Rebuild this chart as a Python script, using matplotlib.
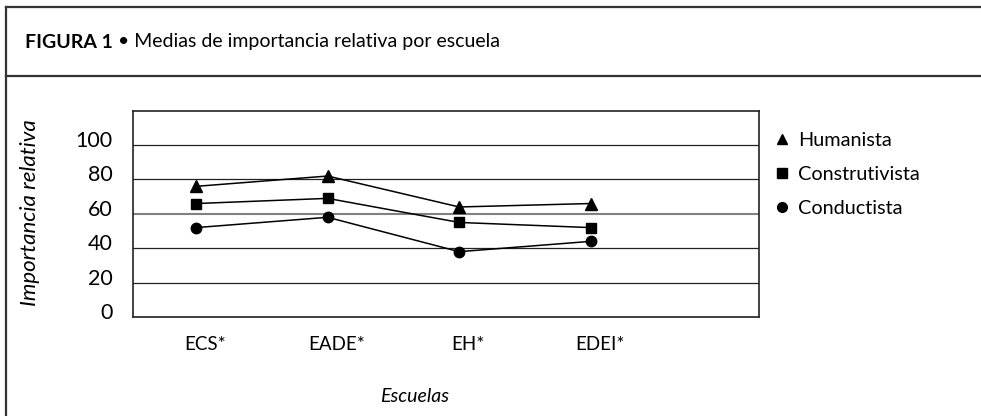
import matplotlib
matplotlib.use("Agg")
import matplotlib.pyplot as plt
import numpy as np
from matplotlib.lines import Line2D
from matplotlib.transforms import ScaledTranslation

plt.rcParams['font.family'] = ['Lato', 'DejaVu Sans']

schools = ["ECS*", "EADE*", "EH*", "EDEI*"]
humanista = [76, 82, 64, 66]
construtivista = [66, 69, 55, 52]
conductista = [52, 58, 38, 44]
yticks = [0, 20, 40, 60, 80, 100]

W, H = 981, 416
fig = plt.figure(figsize=(W / 100, H / 100), dpi=100)

# frame lines
def fl(x0, y0, x1, y1, lw=1.6, c='#333333'):
    fig.add_artist(Line2D([x0 / W, x1 / W], [1 - y0 / H, 1 - y1 / H], lw=lw, color=c,
                          transform=fig.transFigure))
fl(6, 7, W, 7)
fl(6, 7, 6, H)
fl(6, 76, W, 76)

# title
t1 = fig.text(25 / W, 1 - 42 / H, "FIGURA 1", fontsize=14, fontweight='bold', va='center', ha='left')
fig.canvas.draw()
bb = t1.get_window_extent()
fig.text(bb.x1 / W + 5 / W, 1 - 42 / H, "\u2022 Medias de importancia relativa por escuela",
         fontsize=14, va='center', ha='left')

ax = fig.add_axes([133 / W, 1 - 317 / H, (759 - 133) / W, (317 - 110.7) / H])
x = np.arange(len(schools))
ax.plot(x, humanista, color='black', lw=1.1, marker='^', ms=9, label='Humanista')
ax.plot(x, construtivista, color='black', lw=1.1, marker='s', ms=7, label='Construtivista')
ax.plot(x, conductista, color='black', lw=1.1, marker='o', ms=7.5, label='Conductista')

ax.set_xlim(-0.48, 4.28)
ax.set_ylim(0, 120)
ax.set_yticks(yticks)
ax.set_yticklabels([str(v) for v in yticks], fontsize=15.5)
ax.set_xticks(x + 0.07)
ax.set_xticklabels(schools, fontsize=13.5)
ax.tick_params(axis='both', length=0)
ax.tick_params(axis='y', pad=14.5)
ax.tick_params(axis='x', pad=14)
for lab in ax.get_yticklabels():
    lab.set_transform(lab.get_transform() + ScaledTranslation(0, 6 / 100, fig.dpi_scale_trans))
ax.yaxis.grid(True, color='#222222', lw=0.9)
for v, gl in zip(yticks, ax.get_ygridlines()):
    if v == 60:
        gl.set_color('#808080')
        gl.set_linewidth(1.5)
ax.set_axisbelow(True)
for s in ax.spines.values():
    s.set_color('#222222')
    s.set_linewidth(1.2)

fig.text(30 / W, 1 - 213 / H, "Importancia relativa", rotation=90, style='italic',
         fontsize=16, ha='center', va='center')
fig.text(415 / W, 1 - 397 / H, "Escuelas", style='italic', fontsize=14, ha='center', va='center')

handles = [Line2D([], [], ls='none', marker='^', ms=7, color='black'),
           Line2D([], [], ls='none', marker='s', ms=7, color='black'),
           Line2D([], [], ls='none', marker='o', ms=7, color='black')]
fig.legend(handles, ['Humanista', 'Construtivista', 'Conductista'], loc='upper left',
           bbox_to_anchor=(774 / W, 1 - 132 / H), frameon=False, fontsize=14.3,
           handlelength=0.8, handletextpad=0.4, labelspacing=0.85, borderaxespad=0, borderpad=0)

fig.savefig("out.png", dpi=100)
